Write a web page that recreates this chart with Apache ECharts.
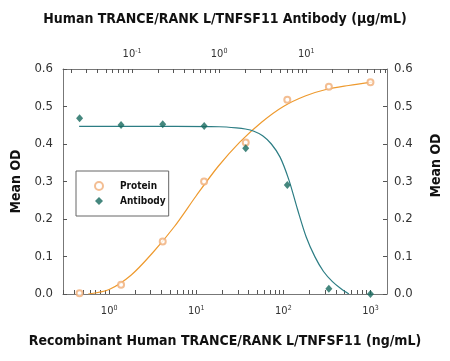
<!DOCTYPE html>
<html>
<head>
<meta charset="utf-8">
<script src="https://cdn.jsdelivr.net/npm/echarts@6/dist/echarts.min.js"></script>
<style>
html,body{margin:0;padding:0;background:#fff;}
#chart{width:450px;height:361px;}
</style>
</head>
<body>
<div id="chart"></div>
<script>
// ---- data ----
const proteinConc = [0.457, 1.37, 4.12, 12.3, 37.0, 111, 333, 1000];          // ng/mL
const proteinOD   = [0.002, 0.025, 0.140, 0.300, 0.404, 0.518, 0.553, 0.565];
const antibodyConc = [0.025, 0.0749, 0.225, 0.674, 2.02, 6.07, 18.2, 54.6];  // µg/mL
const antibodyOD   = [0.469, 0.451, 0.453, 0.448, 0.389, 0.291, 0.014, 0.000];

// fitted curves
const proteinFitConc = [0.575, 1.0, 1.78, 3.16, 5.62, 10.0, 17.8, 31.6, 56.2, 100, 178, 316, 562, 1047];
const proteinFitOD   = [0.000, 0.012, 0.050, 0.110, 0.180, 0.262, 0.340, 0.405, 0.458, 0.500, 0.528, 0.546, 0.556, 0.565];
const antibodyFitConc = [0.0247, 0.1, 0.316, 1.0, 1.58, 2.0, 2.51, 3.16, 3.98, 5.01, 6.31, 7.94, 10.0, 12.6, 15.8, 20.0, 25.1, 30.9];
const antibodyFitOD   = [0.447, 0.447, 0.447, 0.446, 0.443, 0.440, 0.434, 0.422, 0.400, 0.365, 0.305, 0.226, 0.152, 0.099, 0.060, 0.033, 0.014, 0.000];

const bottomDecades = [0, 1, 2, 3];
const topDecades = [-1, 0, 1];

const xTitle = 'Recombinant Human TRANCE/RANK L/TNFSF11 (ng/mL)';
const x2Title = 'Human TRANCE/RANK L/TNFSF11 Antibody (\u00b5g/mL)';
const yTitle = 'Mean OD';

// ---- helpers ----
const L = Math.log10;
const pairs = (xs, ys) => xs.map((x, i) => [L(x), ys[i]]);
function logTicks(lo, hi) {
  const out = [];
  for (let d = Math.floor(lo) - 1; d <= Math.ceil(hi); d++) {
    for (let k = 1; k <= 9; k++) {
      const v = d + L(k);
      if (v >= lo - 1e-9 && v <= hi + 1e-9) out.push(v);
    }
  }
  return out;
}

const FONT = '"DejaVu Sans Condensed", "Liberation Sans", sans-serif';
const bMin = -0.53, bMax = 3.19, shift = 1.2625;
const tMin = bMin - shift, tMax = bMax - shift;

const orangeLine = '#EE9A2E', orangeDot = '#F0AE78';
const tealLine = '#2C7D84', tealDot = '#17695E';
const axisCol = '#777', tickCol = '#555';

const labelRich = {
  b: {fontFamily: FONT, fontSize: 11, color: '#333'},
  s: {fontFamily: FONT, fontSize: 7, color: '#333', verticalAlign: 'bottom', padding: [0, 0, 6, 0]}
};
const powFmt = v => '{b|10}{s|' + Math.round(v) + '}';

function xAx(pos, lo, hi, decades, title, gap, margin) {
  return {
    type: 'value', position: pos, min: lo, max: hi,
    axisLine: {show: true, onZero: false, lineStyle: {color: axisCol, width: 1}},
    axisTick: {show: true, inside: true, length: 4, lineStyle: {color: tickCol}, customValues: logTicks(lo, hi)},
    axisLabel: {show: true, customValues: decades, formatter: powFmt, rich: labelRich, margin: margin},
    splitLine: {show: false},
    name: title, nameLocation: 'middle', nameGap: gap, nameMoveOverlap: false,
    nameTextStyle: {fontFamily: FONT, fontSize: 14, fontWeight: 'bold', color: '#111'}
  };
}
function yAx(pos, gap, pad) {
  return {
    type: 'value', position: pos, min: 0, max: 0.6, interval: 0.1,
    axisLine: {show: true, onZero: false, lineStyle: {color: axisCol, width: 1}},
    axisTick: {show: true, inside: true, length: 4, lineStyle: {color: tickCol}},
    axisLabel: {fontFamily: FONT, fontSize: 13, color: '#333', margin: pos === 'left' ? 10 : 7,
      formatter: v => v.toFixed(1)},
    splitLine: {show: false},
    name: yTitle, nameLocation: 'middle', nameGap: gap, nameRotate: 90, nameMoveOverlap: false,
    nameTextStyle: {fontFamily: FONT, fontSize: 14, fontWeight: 'bold', color: '#111', padding: pad}
  };
}

const option = {
  animation: false,
  backgroundColor: '#fff',
  grid: {left: 63, right: 63, top: 69, bottom: 67, containLabel: false, outerBoundsMode: 'none'},
  xAxis: [xAx('bottom', bMin, bMax, bottomDecades, xTitle, 40, 11), xAx('top', tMin, tMax, topDecades, x2Title, 43, 8)],
  yAxis: [yAx('left', 40, [0, 0, 0, 0]), yAx('right', 42, [0, 0, 0, 32])],
  legend: {
    left: 76, top: 171, orient: 'vertical',
    padding: [10, 3, 10, 18], itemGap: 5, itemWidth: 8, itemHeight: 8,
    borderColor: '#666', borderWidth: 1, borderRadius: 0, backgroundColor: '#fff',
    textStyle: {fontFamily: FONT, fontSize: 10, fontWeight: 'bold', color: '#111', padding: [0, 0, 0, 12]},
    data: ['Protein', 'Antibody']
  },
  series: [
    {name: 'Protein fit', type: 'line', xAxisIndex: 0, yAxisIndex: 0, data: pairs(proteinFitConc, proteinFitOD),
      smooth: 0.3, showSymbol: false, symbol: 'none', clip: true,
      lineStyle: {color: orangeLine, width: 1.2}, z: 2},
    {name: 'Antibody fit', type: 'line', xAxisIndex: 1, yAxisIndex: 1, data: pairs(antibodyFitConc, antibodyFitOD),
      smooth: 0.3, showSymbol: false, symbol: 'none', clip: true,
      lineStyle: {color: tealLine, width: 1.2}, z: 2},
    {name: 'Protein', type: 'scatter', xAxisIndex: 0, yAxisIndex: 0, data: pairs(proteinConc, proteinOD),
      symbol: 'emptyCircle', symbolSize: 6, itemStyle: {color: orangeDot, borderColor: orangeDot, borderWidth: 1}, z: 3, clip: false},
    {name: 'Antibody', type: 'scatter', xAxisIndex: 1, yAxisIndex: 1, data: pairs(antibodyConc, antibodyOD),
      symbol: 'diamond', symbolSize: [7, 8], itemStyle: {color: tealDot}, z: 3, clip: false}
  ]
};
const chart = echarts.init(document.getElementById('chart'), null, {renderer: 'canvas'});
chart.setOption(option);
</script>
</body>
</html>
